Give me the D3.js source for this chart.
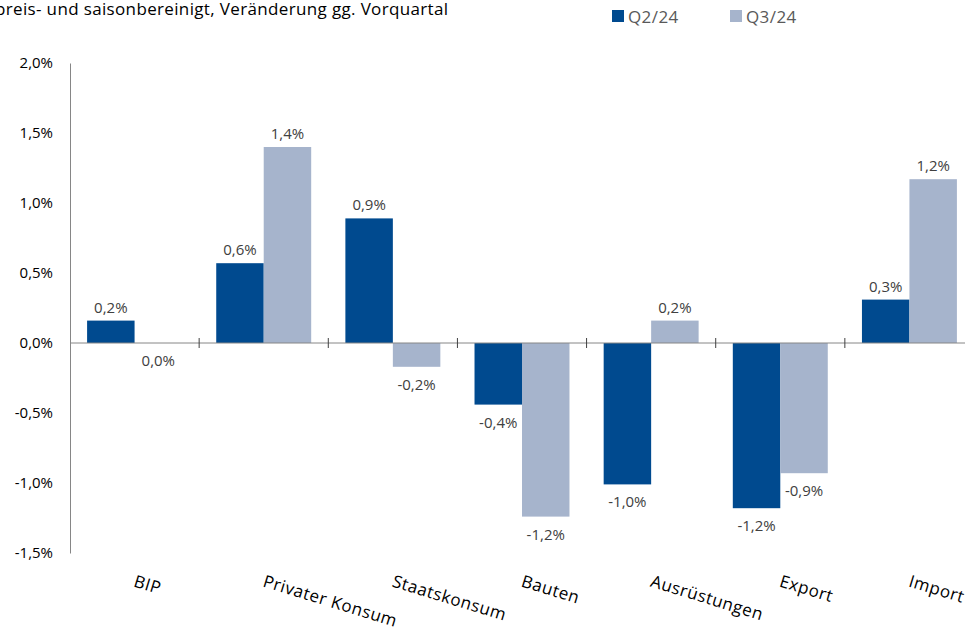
<!DOCTYPE html>
<html>
<head>
<meta charset="utf-8">
<script src="https://cdn.jsdelivr.net/npm/d3@7"></script>
<style>
  body { margin: 0; background: #fff; }
  text { font-family: "Open Sans", "Noto Sans", sans-serif; }
</style>
</head>
<body>
<svg class="MainSvg"></svg>
<script>
    var categories = ["BIP", "Privater Konsum", "Staatskonsum", "Bauten", "Ausrüstungen", "Export", "Import"];
    var seriesNames = ["Q2/24", "Q3/24"];
    var q2 = [0.16, 0.57, 0.89, -0.44, -1.01, -1.18, 0.31];
    var q3 = [0.00, 1.40, -0.17, -1.24, 0.16, -0.93, 1.17];
    var yTicks = [-1.5, -1.0, -0.5, 0.0, 0.5, 1.0, 1.5, 2.0];
    var colors = ["#004A8F", "#A6B4CC"];

    var width = 965, height = 629;
    // Komma als Dezimaltrenner, normaler Bindestrich statt Minuszeichen
    var fmt = function (v) { return d3.format(".1f")(v).replace(".", ",").replace("\u2212", "-") + "%"; };

    var data = categories.map(function (c, i) {
        return { cat: c, vals: [q2[i], q3[i]] };
    });

    var svg = d3.select(".MainSvg").attr("width", width).attr("height", height);

    var x = d3.scaleBand().domain(categories).range([70, 974]).padding(0);
    var x1 = d3.scaleBand().domain(seriesNames).range([0, x.bandwidth()]).paddingInner(0).paddingOuter(0.36);
    var y = d3.scaleLinear().domain([-1.5, 2.0]).range([553, 63]);

    // title (links abgeschnitten wie im Original)
    svg.append("text")
        .attr("x", -5).attr("y", 15)
        .attr("font-size", 17).attr("letter-spacing", 0.35).attr("fill", "#000")
        .text("preis- und saisonbereinigt, Veränderung gg. Vorquartal");

    // legend
    var legend = svg.append("g");
    var legX = [612, 730];
    seriesNames.forEach(function (s, i) {
        legend.append("rect").attr("x", legX[i]).attr("y", 10).attr("width", 12).attr("height", 12).attr("fill", colors[i]);
        legend.append("text").attr("x", legX[i] + 16).attr("y", 23).attr("font-size", 17).attr("letter-spacing", 0.4).attr("fill", "#595959").text(s);
    });

    // y axis
    var yAxis = d3.axisLeft(y).tickValues(yTicks).tickFormat(fmt).tickSize(0).tickPadding(17);
    var gy = svg.append("g").attr("transform", "translate(70,0)").call(yAxis);
    gy.select(".domain").attr("stroke", "#868686");
    gy.selectAll("text").attr("font-size", 15).attr("fill", "#000").attr("font-family", "Open Sans, sans-serif");

    // bars
    var groups = svg.append("g").selectAll("g").data(data).enter().append("g")
        .attr("transform", function (d) { return "translate(" + x(d.cat) + ",0)"; });

    var pts = function (d) { return d.vals.map(function (v, i) { return { s: seriesNames[i], v: v, i: i }; }); };

    groups.selectAll("rect")
        .data(pts)
        .enter().append("rect")
        .attr("x", function (d) { return x1(d.s); })
        .attr("width", x1.bandwidth())
        .attr("y", function (d) { return y(Math.max(0, d.v)); })
        .attr("height", function (d) { return Math.abs(y(d.v) - y(0)); })
        .attr("fill", function (d) { return colors[d.i]; });

    groups.selectAll("text.lbl")
        .data(pts)
        .enter().append("text")
        .attr("class", "lbl")
        .attr("x", function (d) { return x1(d.s) + x1.bandwidth() / 2; })
        .attr("y", function (d) { return d.v > 0 ? y(d.v) - 8 : y(d.v) + 23; })
        .attr("text-anchor", "middle")
        .attr("font-size", 15).attr("fill", "#404040")
        .text(function (d) { return fmt(d.v); });

    // x axis (Nulllinie) mit Teilstrichen
    var gx = svg.append("g").attr("transform", "translate(0," + y(0) + ")");
    gx.append("line").attr("x1", 70).attr("x2", width).attr("stroke", "#868686");
    gx.selectAll("line.tk").data(categories.slice(1)).enter().append("line")
        .attr("class", "tk")
        .attr("x1", function (d) { return x(d); }).attr("x2", function (d) { return x(d); })
        .attr("y1", -5).attr("y2", 5).attr("stroke", "#404040");

    // category labels, gedreht
    svg.append("g").selectAll("text").data(categories).enter().append("text")
        .attr("transform", function (d) { return "translate(" + (x(d) + x.bandwidth() / 2 + 2) + ",574) rotate(17)"; })
        .attr("dy", "0.75em")
        .attr("font-size", 17).attr("letter-spacing", 0.5).attr("fill", "#000")
        .text(function (d) { return d; });
</script>
</body>
</html>
